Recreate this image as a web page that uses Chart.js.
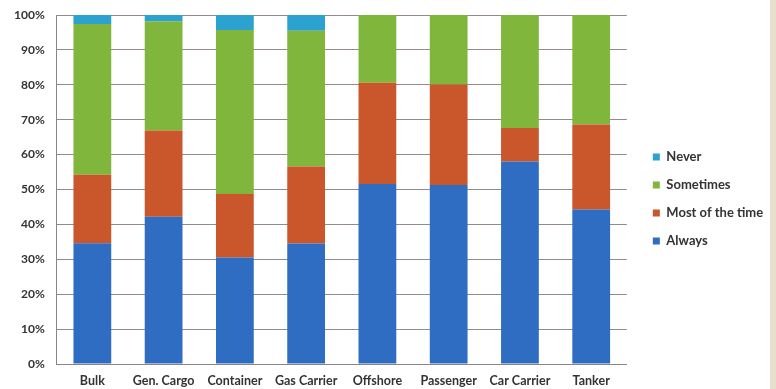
<!DOCTYPE html>
<html>
<head>
<meta charset="utf-8">
<script src="https://cdn.jsdelivr.net/npm/chart.js@4/dist/chart.umd.min.js"></script>
<style>
  html, body { margin: 0; padding: 0; background: #ffffff; }
  #wrap { position: relative; width: 776px; height: 389px; background: #ffffff; }
  #strip { position: absolute; right: 0; top: 0; width: 6px; height: 389px; background: #e9dfd0; }
  canvas { position: absolute; left: 0; top: 0; }
</style>
</head>
<body>
<div id="wrap">
  <canvas id="c" width="776" height="389"></canvas>
  <div id="strip"></div>
</div>
<script>
const categories = ["Bulk", "Gen. Cargo", "Container", "Gas Carrier", "Offshore", "Passenger", "Car Carrier", "Tanker"];
const always     = [34.6, 42.2, 30.5, 34.5, 51.6, 51.3, 58.0, 44.3];
const mostOfTime = [19.6, 24.7, 18.2, 22.1, 29.0, 28.8, 9.6, 24.3];
const sometimes  = [43.2, 31.3, 47.0, 38.9, 19.4, 19.9, 32.4, 31.4];
const never      = [2.6, 1.8, 4.3, 4.5, 0, 0, 0, 0];
const yTicks = [0, 10, 20, 30, 40, 50, 60, 70, 80, 90, 100];

const FONT = "Lato, 'Open Sans', sans-serif";

new Chart(document.getElementById('c'), {
  type: 'bar',
  data: {
    labels: categories,
    datasets: [
      { label: 'Always', data: always, backgroundColor: '#2f6dc2' },
      { label: 'Most of the time', data: mostOfTime, backgroundColor: '#c9572b' },
      { label: 'Sometimes', data: sometimes, backgroundColor: '#7fb63b' },
      { label: 'Never', data: never, backgroundColor: '#2ba2cf' }
    ]
  },
  options: {
    responsive: false,
    animation: false,
    layout: { padding: { left: 2, right: 11, top: 1, bottom: -8 } },
    datasets: { bar: { categoryPercentage: 1.0, barPercentage: 0.53, borderWidth: 0 } },
    plugins: {
      legend: {
        position: 'right',
        reverse: true,
        labels: {
          boxWidth: 7, boxHeight: 7, padding: 15,
          color: '#333333',
          font: { family: FONT, size: 13, weight: 'bold' }
        }
      },
      tooltip: { enabled: false }
    },
    scales: {
      x: {
        stacked: true,
        grid: { display: false, drawTicks: false },
        border: { display: true, color: '#8f8484', width: 1 },
        ticks: { color: '#333333', font: { family: FONT, size: 12.5, weight: 'bold' }, padding: 9, maxRotation: 0 }
      },
      y: {
        stacked: true,
        min: 0, max: 100,
        afterBuildTicks: (axis) => { axis.ticks = yTicks.map(v => ({ value: v })); },
        afterFit: (s) => { s.paddingTop = 15; s.paddingBottom = 8; },
        grid: { color: '#958a8a', lineWidth: 1, drawTicks: false },
        border: { display: true, color: '#8f8484', width: 1 },
        ticks: {
          color: '#333333', padding: 12,
          font: { family: FONT, size: 12, weight: 'bold' },
          callback: (v) => v + '%'
        }
      },
      gap: {
        type: 'linear',
        position: 'right',
        display: true,
        grid: { display: false, drawTicks: false },
        border: { display: false },
        ticks: { display: false },
        afterFit: (s) => { s.width = 11; }
      }
    }
  }
});
</script>
</body>
</html>
